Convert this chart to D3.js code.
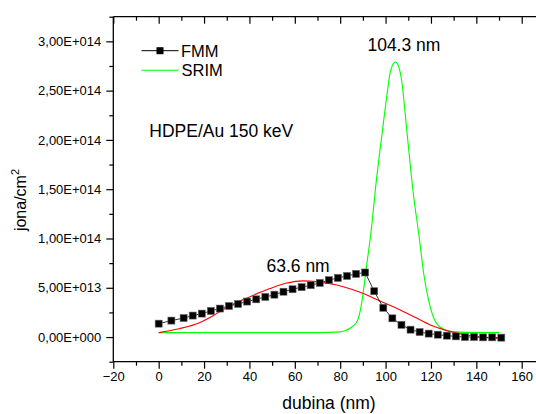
<!DOCTYPE html>
<html><head><meta charset="utf-8">
<script src="https://cdn.jsdelivr.net/npm/d3@7/dist/d3.min.js"></script>
<style>html,body{margin:0;padding:0;background:#fff;}svg{display:block;font-family:Arial,"Liberation Sans",sans-serif;}</style>
</head><body><svg id="c" width="536" height="414"></svg>
<script>
// FMM measured points (depth nm, ions/cm^2)
const fmmX = [0,5.6,11,15,19,23,27,31,35,39,43,47,51,55,59,63,67,71,75,79,83,87,91,95,99,103,107,111,115,119,123,127,131,135,139,143,147,151];
const fmmY = [1.36e13,1.67e13,1.93e13,2.18e13,2.38e13,2.65e13,2.89e13,3.15e13,3.36e13,3.6e13,3.83e13,4.07e13,4.3e13,4.6e13,4.85e13,5.06e13,5.26e13,5.49e13,5.77e13,6.0e13,6.2e13,6.41e13,6.55e13,4.65e13,2.97e13,1.9e13,1.24e13,0.75e13,0.51e13,0.35e13,0.24e13,0.14e13,0.07e13,0.0,0.0,-0.03e13,-0.03e13,-0.06e13];
// fitted curve through FMM (red)
const fitX = [0,9,18,25,31,40,49,56,63.6,70,78,85,92,99,106,113,120,127,134,142,151];
const fitY = [0.45e13,0.85e13,1.46e13,2.3e13,3.12e13,4.07e13,4.92e13,5.45e13,5.7e13,5.6e13,5.3e13,4.85e13,4.25e13,3.5e13,2.8e13,2.0e13,1.2e13,0.65e13,0.27e13,0.0,-0.2e13];
// SRIM curve (green)
const srimX = [0,40,70,78,82,85,87.5,89.5,91.5,93.5,96,98.7,100.5,102,103.3,104.3,105.5,107.1,109.3,112,115,116.8,119,122.5,126,130,135,150];
const srimY = [0.045e14,0.045e14,0.045e14,0.05e14,0.065e14,0.1e14,0.16e14,0.35e14,0.7e14,1.05e14,1.6e14,2.11e14,2.44e14,2.68e14,2.77e14,2.79e14,2.76e14,2.6e14,2.11e14,1.5e14,0.98e14,0.645e14,0.37e14,0.136e14,0.075e14,0.055e14,0.047e14,0.045e14];
const xTicks = [-20,0,20,40,60,80,100,120,140,160];
const xMinor = [-10,10,30,50,70,90,110,130,150,170];
const yTicks = [0,5e13,1e14,1.5e14,2e14,2.5e14,3e14];
const yTickLabels = ["0,00E+000","5,00E+013","1,00E+014","1,50E+014","2,00E+014","2,50E+014","3,00E+014"];
const yMinor = [-2.5e13,2.5e13,7.5e13,1.25e14,1.75e14,2.25e14,2.75e14,3.25e14];
const peakLabels = [{t:"63.6 nm", x:47.5, y:6.6e13},{t:"104.3 nm", x:92, y:2.9e14}];

const svg = d3.select("#c");
const x = d3.scaleLinear().domain([-20,170]).range([113.3,544.4]);
const y = d3.scaleLinear().domain([-2.5e13,3.25e14]).range([361.7,16.7]);
const axCol = "#000";

// axes lines
const g = svg.append("g");
// bottom axis
const xa = d3.axisBottom(x).tickValues(xTicks).tickSize(7).tickPadding(3).tickFormat(d3.format("d"));
const gx = g.append("g").attr("transform","translate(0,361.7)").call(xa);
gx.select(".domain").attr("d", `M${x(-20)},0H${x(170)}`);
const xm = d3.axisBottom(x).tickValues(xMinor).tickSize(4).tickFormat("");
g.append("g").attr("transform","translate(0,361.7)").call(xm).select(".domain").remove();
// top axis (mirror, inward ticks)
const xt = d3.axisBottom(x).tickValues(xTicks).tickSize(7).tickFormat("");
g.append("g").attr("transform","translate(0,16.7)").call(xt).select(".domain").attr("d", `M${x(-20)},0H${x(170)}`);
const xtm = d3.axisBottom(x).tickValues(xMinor).tickSize(4).tickFormat("");
g.append("g").attr("transform","translate(0,16.7)").call(xtm).select(".domain").remove();
// left axis
const ya = d3.axisLeft(y).tickValues(yTicks).tickSize(7).tickPadding(5).tickFormat((d,i)=>yTickLabels[i]);
const gy = g.append("g").attr("transform",`translate(${x(-20)},0)`).call(ya);
gy.select(".domain").attr("d", `M0,${y(3.25e14)}V${y(-2.5e13)}`);
const ym = d3.axisLeft(y).tickValues(yMinor).tickSize(4).tickFormat("");
g.append("g").attr("transform",`translate(${x(-20)},0)`).call(ym).select(".domain").remove();

g.selectAll(".domain").attr("stroke",axCol).attr("stroke-width",1.3);
g.selectAll(".tick line").attr("stroke",axCol).attr("stroke-width",1.2);
g.selectAll(".tick text").attr("fill","#000").style("font-size","13px").style("font-family","Arial, 'Liberation Sans', sans-serif");

// axis titles
svg.append("text").attr("x",329).attr("y",409).attr("text-anchor","middle").style("font-size","17.5px").text("dubina (nm)");
const yt = svg.append("text").attr("transform","translate(26,200) rotate(-90)").attr("text-anchor","middle").style("font-size","16px");
yt.append("tspan").text("jona/cm");
yt.append("tspan").attr("dy",-7).style("font-size","11px").text("2");

// curves
const line = d3.line().x(d=>x(d[0])).y(d=>y(d[1])).curve(d3.curveMonotoneX);
svg.append("path").datum(srimX.map((v,i)=>[v,srimY[i]])).attr("d",line).attr("fill","none").attr("stroke","#00ff00").attr("stroke-width",1.1);
svg.append("path").datum(fitX.map((v,i)=>[v,fitY[i]])).attr("d",line).attr("fill","none").attr("stroke","#ff0000").attr("stroke-width",1.1);
const lin = d3.line().x(d=>x(d[0])).y(d=>y(d[1]));
svg.append("path").datum(fmmX.map((v,i)=>[v,fmmY[i]])).attr("d",lin).attr("fill","none").attr("stroke","#000").attr("stroke-width",0.8);
svg.append("g").selectAll("rect").data(fmmX.map((v,i)=>[v,fmmY[i]])).join("rect")
  .attr("x",d=>x(d[0])-3.5).attr("y",d=>y(d[1])-3.5).attr("width",7).attr("height",7)
  .attr("fill","#000").attr("stroke","#666").attr("stroke-width",0.6);

// legend
const lg = svg.append("g");
lg.append("line").attr("x1",141.5).attr("x2",178.5).attr("y1",50.7).attr("y2",50.7).attr("stroke","#000").attr("stroke-width",1);
lg.append("rect").attr("x",156.5).attr("y",47.2).attr("width",7).attr("height",7).attr("fill","#000");
lg.append("text").attr("x",181).attr("y",56.5).style("font-size","16.5px").text("FMM");
lg.append("line").attr("x1",141.5).attr("x2",178.5).attr("y1",70.3).attr("y2",70.3).attr("stroke","#00ff00").attr("stroke-width",1.1);
lg.append("text").attr("x",181.5).attr("y",76.3).style("font-size","16.5px").text("SRIM");

// annotations
svg.append("text").attr("x",149.3).attr("y",137).style("font-size","17.5px").text("HDPE/Au 150 keV");
svg.selectAll("text.pk").data(peakLabels).join("text").attr("class","pk")
  .attr("x",d=>x(d.x)).attr("y",d=>y(d.y)).style("font-size","17.5px").text(d=>d.t);
</script></body></html>
